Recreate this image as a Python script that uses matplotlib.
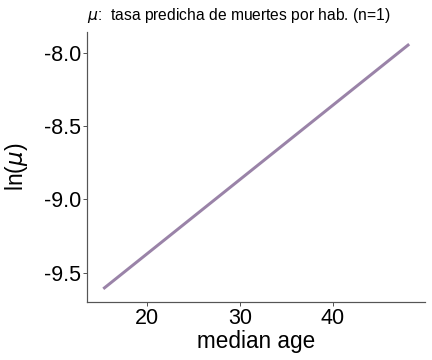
import matplotlib
matplotlib.use("Agg")
import matplotlib.pyplot as plt
import numpy as np

plt.rcParams['font.family'] = ['Liberation Sans', 'DejaVu Sans']
plt.rcParams['mathtext.fontset'] = 'dejavusans'

median_age = [15.3, 48.2]
ln_mu = [-9.61, -7.94]
xticks = [20, 30, 40]
yticks = [-9.5, -9.0, -8.5, -8.0]
ytick_labels = ["-9.5", "-9.0", "-8.5", "-8.0"]

fig = plt.figure(figsize=(6, 5), dpi=72)
ax = fig.add_axes([87/432, 1-302/360, (425-87)/432, (302-32)/360])
ax.plot(median_age, ln_mu, color='#9a83a8', lw=3, solid_capstyle='butt')
ax.set_xlim(13.55, 49.9)
ax.set_ylim(-9.70, -7.857)
ax.set_xticks(xticks)
ax.set_xticklabels([str(t) for t in xticks])
ax.set_yticks(yticks)
ax.set_yticklabels(ytick_labels)
ax.tick_params(labelsize=21.5, color='#555555', length=4, width=1, pad=2)
for s in ['top', 'right']:
    ax.spines[s].set_visible(False)
for s in ['left', 'bottom']:
    ax.spines[s].set_color('#555555')
    ax.spines[s].set_linewidth(1.2)
ax.set_xlabel('median age', fontsize=22.5, labelpad=1)
ax.set_ylabel(r'ln($\mu$)', fontsize=23, labelpad=14)
ax.set_title(r'$\mu$:  tasa predicha de muertes por hab. (n=1)', fontsize=15.6, loc='left', pad=12)
fig.savefig('out.png', dpi=72)
